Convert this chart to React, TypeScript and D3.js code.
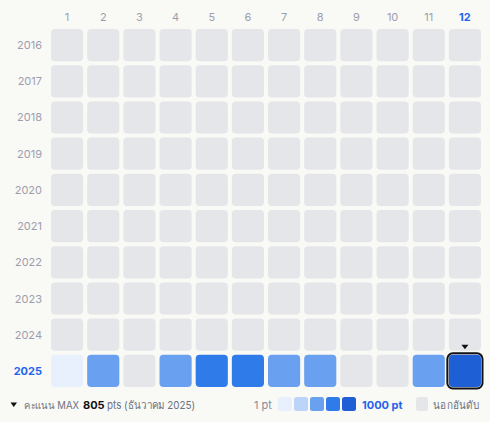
import React from "react";
import * as d3 from "d3";

const months = ["1", "2", "3", "4", "5", "6", "7", "8", "9", "10", "11", "12"];
const years = ["2016", "2017", "2018", "2019", "2020", "2021", "2022", "2023", "2024", "2025"];
// points for 2025 by month; null = not ranked
const values2025: (number | null)[] = [120, 480, null, 470, 700, 710, 460, 470, null, null, 480, 805];
const levelColors = ["#e8effd", "#bcd3fa", "#6aa0f0", "#2f7be9", "#1f5fd6"];
const emptyColor = "#e5e6ea";
const selectedYear = "2025";
const selectedMonth = "12";

export default function App() {
  const W = 490, H = 422;
  const x = d3.scaleBand().domain(months).range([50, 482]).paddingInner(4 / 36).paddingOuter(1 / 36);
  const y = d3.scaleBand().domain(years).range([28, 388]).paddingInner(4 / 36).paddingOuter(1 / 36);
  const color = d3.scaleQuantize<string>().domain([1, 1000]).range(levelColors);
  const bw = x.bandwidth();
  const bh = y.bandwidth();
  const font = "Inter, 'Noto Sans', sans-serif";
  const labelColor = "#9d9eac";
  const blue = "#2563eb";

  const cells: React.ReactNode[] = [];
  years.forEach((yr) => {
    months.forEach((m, mi) => {
      const v = yr === "2025" ? values2025[mi] : null;
      const fill = v == null ? emptyColor : color(v);
      cells.push(
        <rect key={yr + m} x={x(m)} y={y(yr)} width={bw} height={bh} rx={4} fill={fill} />
      );
    });
  });

  const sx = x(selectedMonth)!;
  const sy = y(selectedYear)!;

  return (
    <svg width={W} height={H} style={{ position: "absolute", left: 0, top: 0, background: "#f9f9f6", fontFamily: font }}>
      <rect width={W} height={H} fill="#f9f9f6" />
      {months.map((m) => (
        <text key={m} x={x(m)! + bw / 2} y={21} textAnchor="middle" fontSize={11}
          fontWeight={m === selectedMonth ? 700 : 400} fill={m === selectedMonth ? blue : labelColor}>{m}</text>
      ))}
      {years.map((yr) => (
        <text key={yr} x={42} y={y(yr)! + bh / 2 + 4} textAnchor="end" fontSize={11}
          fontWeight={yr === selectedYear ? 700 : 400} fill={yr === selectedYear ? blue : labelColor}>{yr}</text>
      ))}
      {cells}
      <rect x={sx - 1.5} y={sy - 1.5} width={bw + 3} height={bh + 3} rx={5.5} fill="none" stroke="#111" strokeWidth={2} />
      <path d={`M${sx + bw / 2 - 3.5},${sy - 10}L${sx + bw / 2 + 3.5},${sy - 10}L${sx + bw / 2},${sy - 5.5}Z`} fill="#111" />

      {/* footer */}
      <path d="M10.5,402.5L17,402.5L13.75,407Z" fill="#111" />
      <text x={24} y={409} fontSize={10} fill="#6b7280" textLength={55} lengthAdjust="spacingAndGlyphs">คะแนน MAX</text>
      <text x={83} y={409} fontSize={11} fontWeight={700} fill="#111">805</text>
      <text x={107} y={409} fontSize={11} fill="#6b7280" textLength={88} lengthAdjust="spacingAndGlyphs">pts (ธันวาคม 2025)</text>
      <text x={254} y={408.5} fontSize={11} fill="#8a8b96">1 pt</text>
      {levelColors.map((c, i) => (
        <rect key={c} x={278 + i * 16} y={397} width={14} height={14} rx={2.5} fill={c} />
      ))}
      <text x={362} y={408.5} fontSize={11} fontWeight={700} fill={blue}>1000 pt</text>
      <rect x={416} y={397} width={12} height={14} rx={2.5} fill={emptyColor} />
      <text x={433} y={408.5} fontSize={11} fill="#6b7280" textLength={46} lengthAdjust="spacingAndGlyphs">นอกอันดับ</text>
    </svg>
  );
}
